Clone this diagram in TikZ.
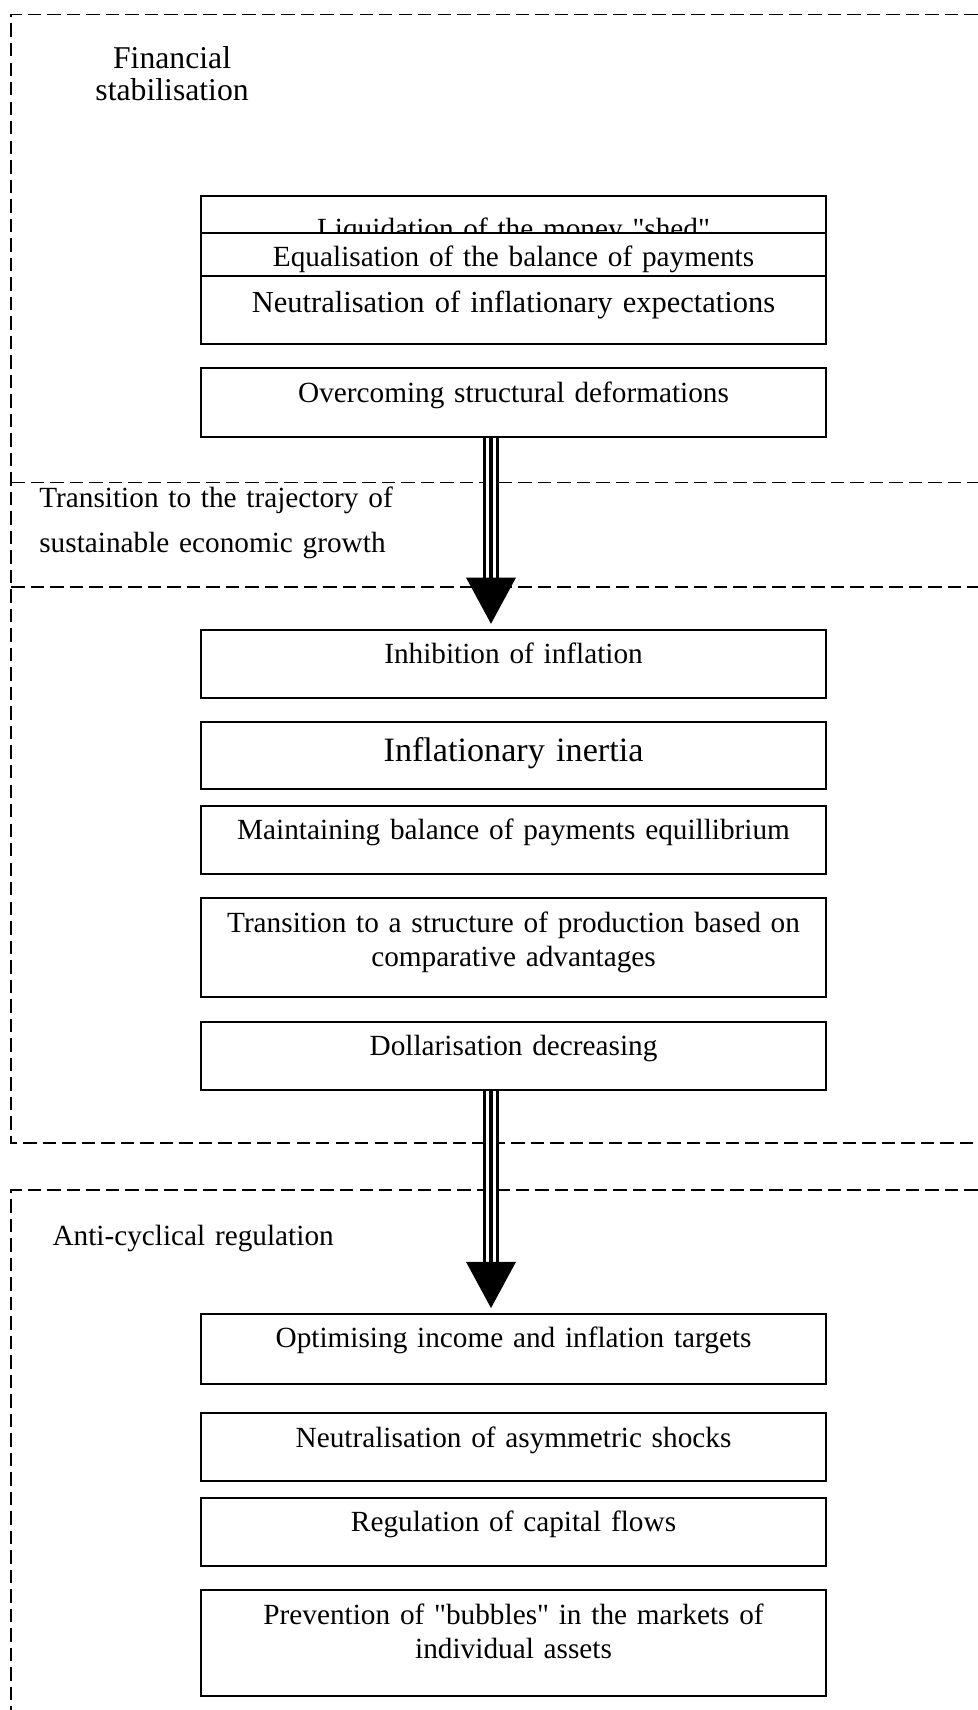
\documentclass[tikz,border=0pt]{standalone}
\usepackage{fontspec}
\setmainfont{Liberation Serif}[Ligatures=TeXOff]
\usetikzlibrary{arrows.meta,calc,positioning}

\begin{document}
\begin{tikzpicture}[line join=miter,
	box/.style={draw,line width=0.8pt,fill=white,text width=9cm,inner xsep=0pt,inner ysep=0pt,align=center,anchor=north,text height=13.9pt,text depth=14pt,font=\fontsize{12}{13.9}\selectfont},
	zone/.style={line width=0.6pt,dash pattern=on 5.5pt off 2.5pt},
	title/.style={inner sep=0pt,text width=8cm},
	shaft/.style={line width=1pt,double distance=4.4pt,shorten >=20pt},
	core/.style={line width=2pt,shorten >=2pt,-{Triangle[length=19pt,width=20pt]}}]
		\useasboundingbox (0,0) rectangle (14.09,-24.64);
		\coordinate (ax) at (7.075,0);
		\draw[zone] (14.09,-0.21)--(0.16,-0.21)--(0.16,-16.47)--(14.09,-16.47);
		\draw[zone] (0.16,-6.95)--(14.09,-6.95) (0.16,-8.46)--(14.09,-8.46);
		\draw[zone] (14.09,-17.15)--(0.16,-17.15)--(0.16,-24.64);
		\node[title,text width=3cm,align=center,anchor=base,font=\fontsize{13}{13.5}\selectfont] (fin) at (2.48,-0.98) {Financial\\stabilisation};
		\node[title,align=left,anchor=base west,font=\fontsize{12}{18.5}\selectfont] (traj) at (0.56,-7.31) {Transition to the trajectory of\\sustainable economic growth};
		\node[title,align=left,anchor=base west,font=\fontsize{12}{14}\selectfont] (anti) at (0.75,-17.94) {Anti-cyclical regulation};
		\node[box,text height=17.4pt,text depth=10.5pt] (liq) at (7.40,-2.81) {Liquidation of the money "shed"};
		\node[box] (equ) at (7.40,-3.34) {Equalisation of the balance of payments};
		\node[box,font=\fontsize{12.5}{15}\selectfont,text height=15pt,text depth=12.9pt] (neu) at (7.40,-3.96) {Neutralisation of inflationary expectations};
		\node[box,text depth=14.4pt] (over) at (7.40,-5.29) {Overcoming structural deformations};
		\node[box] (inh) at (7.40,-9.06) {Inhibition of inflation};
		\node[box,font=\fontsize{14}{16}\selectfont,text height=16.2pt,text depth=11.3pt] (inert) at (7.40,-10.39) {Inflationary inertia};
		\node[box] (maint) at (7.40,-11.60) {Maintaining balance of payments equillibrium};
		\node[box,text depth=26.7pt] (trans) at (7.40,-12.93) {Transition to a structure of production based on\\comparative advantages};
		\node[box] (doll) at (7.40,-14.71) {Dollarisation decreasing};
		\node[box,text depth=14.8pt] (opt) at (7.40,-18.92) {Optimising income and inflation targets};
		\node[box] (asym) at (7.40,-20.35) {Neutralisation of asymmetric shocks};
		\node[box] (reg) at (7.40,-21.57) {Regulation of capital flows};
		\node[box,text depth=29.6pt] (prev) at (7.40,-22.90) {Prevention of "bubbles" in the markets of\\individual assets};
		\draw[shaft] (over.south -| ax)--(inh.north -| ax);
		\draw[core] (over.south -| ax)--(inh.north -| ax);
		\draw[shaft] (doll.south -| ax)--(opt.north -| ax);
		\draw[core] (doll.south -| ax)--(opt.north -| ax);
\end{tikzpicture}
\end{document}
